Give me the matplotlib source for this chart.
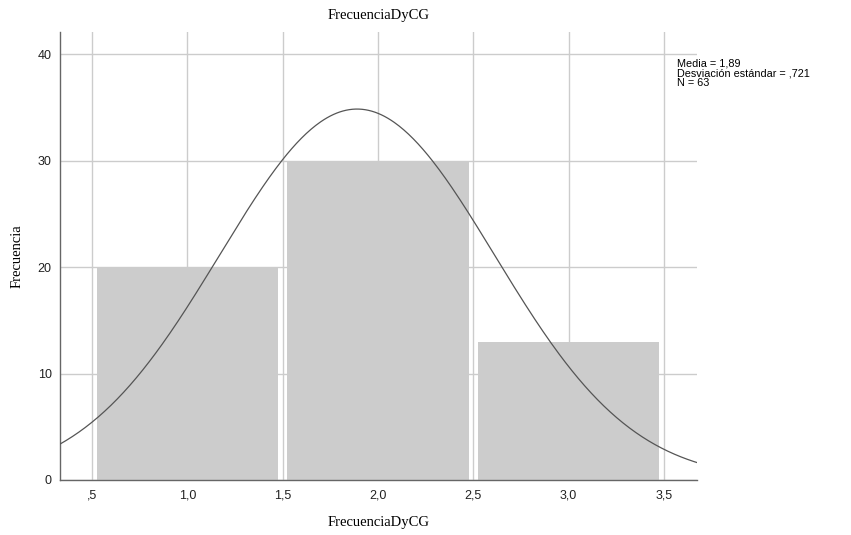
import numpy as np
import matplotlib.pyplot as plt
from matplotlib.ticker import FuncFormatter

# histogram of FrecuenciaDyCG (SPSS output)
bin_centers = [1, 2, 3]
counts = [20, 30, 13]
media = 1.89
desv = 0.721
n = 63

x_ticks = [0.5, 1.0, 1.5, 2.0, 2.5, 3.0, 3.5]
y_ticks = [0, 10, 20, 30, 40]

serif = "Liberation Serif"
sans = "Liberation Sans"


def spss_fmt(v, pos):
    s = "%.1f" % v
    if s.startswith("0"):
        s = s[1:]
    return s.replace(".", ",")


fig = plt.figure(figsize=(8.51, 5.35), dpi=100)
ax = fig.add_axes([60 / 851, 55 / 535, 637 / 851, 448 / 535])

ax.bar(bin_centers, counts, width=0.95, color="#cccccc", edgecolor="none", zorder=2)

xs = np.linspace(0.33, 3.68, 400)
pdf = np.exp(-0.5 * ((xs - media) / desv) ** 2) / (desv * np.sqrt(2 * np.pi))
ax.plot(xs, n * 1.0 * pdf, color="#555555", lw=0.9, zorder=3)

ax.set_xlim(0.332, 3.673)
ax.set_ylim(0, 42.1)
ax.set_xticks(x_ticks)
ax.set_yticks(y_ticks)
ax.xaxis.set_major_formatter(FuncFormatter(spss_fmt))
ax.grid(True, color="#cccccc", lw=1.0, zorder=0)
ax.set_axisbelow(True)
ax.tick_params(length=0, labelsize=9, colors="#222222")
ax.tick_params(axis="x", pad=7)
ax.tick_params(axis="y", pad=6)
for lbl in ax.get_xticklabels() + ax.get_yticklabels():
    lbl.set_fontfamily(sans)

for s in ["top", "right"]:
    ax.spines[s].set_visible(False)
for s in ["left", "bottom"]:
    ax.spines[s].set_color("#666666")
    ax.spines[s].set_linewidth(1.0)

ax.set_title("FrecuenciaDyCG", fontfamily=serif, fontsize=10.5, pad=9)
ax.set_xlabel("FrecuenciaDyCG", fontfamily=serif, fontsize=10.5, labelpad=10)
ax.set_ylabel("Frecuencia", fontfamily=serif, fontsize=10.5, labelpad=10)

fig.text(677 / 851, 1 - 58 / 535,
         "Media = 1,89\nDesviación estándar = ,721\nN = 63",
         fontfamily=sans, fontsize=7.8, va="top", ha="left", linespacing=1.0)

fig.savefig("out.png", dpi=100)
